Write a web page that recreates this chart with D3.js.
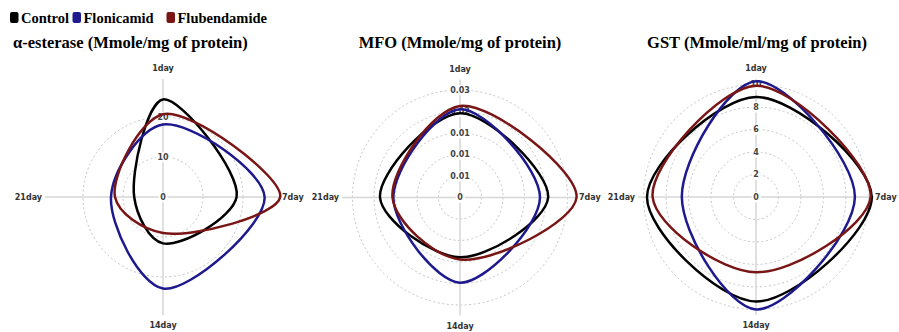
<!DOCTYPE html>
<html>
<head>
<meta charset="utf-8">
<script src="https://cdn.jsdelivr.net/npm/d3@7"></script>
<style>
    body { margin: 0; background: #fff; }
    svg { display: block; }
</style>
</head>
<body>
<svg></svg>
<script>
const days = ['1day', '7day', '14day', '21day'];
const seriesNames = ['Control', 'Flonicamid', 'Flubendamide'];
const seriesColors = ['#000000', '#1e1a8e', '#7a1515'];

// alpha-esterase
const esteraseControl = [24.4, 18.4, 11.6, 7.2];
const esteraseFlonicamid = [18.1, 25.4, 22.9, 13.0];
const esteraseFlubendamide = [20.7, 29.3, 9.0, 12.0];
const esteraseTicks = [10, 20];

// MFO
const mfoControl = [0.0196, 0.0205, 0.0139, 0.0186];
const mfoFlonicamid = [0.0205, 0.0186, 0.0198, 0.0155];
const mfoFlubendamide = [0.0213, 0.0271, 0.0144, 0.0157];
const mfoTicks = [0.005, 0.01, 0.015, 0.02, 0.025];

// GST
const gstControl = [8.9, 10.3, 9.3, 9.7];
const gstFlonicamid = [10.3, 8.8, 10.0, 6.6];
const gstFlubendamide = [9.9, 10.2, 6.7, 9.2];
const gstTicks = [2, 4, 6, 8, 10];

const width = 899, height = 332;
const R = 118;

const svg = d3.select('svg')
    .attr('width', width)
    .attr('height', height);

const charts = [
    {
        title: 'α-esterase (Mmole/mg of protein)', titleX: 13, anchor: 'start',
        cx: 163, cy: 197, max: 29.5, ticks: esteraseTicks, fmt: d => d,
        series: [esteraseControl, esteraseFlonicamid, esteraseFlubendamide]
    },
    {
        title: 'MFO (Mmole/mg of protein)', titleX: 460, anchor: 'middle',
        cx: 460, cy: 197.5, max: 0.02744, ticks: mfoTicks, fmt: d => d === 0 ? '0' : d.toFixed(2),
        series: [mfoControl, mfoFlonicamid, mfoFlubendamide]
    },
    {
        title: 'GST (Mmole/ml/mg of protein)', titleX: 757, anchor: 'middle',
        cx: 756, cy: 197, max: 10.5, ticks: gstTicks, fmt: d => d,
        series: [gstControl, gstFlonicamid, gstFlubendamide]
    }
];

const angle = i => i * Math.PI / 2;

function drawRadar(c) {
    const r = d3.scaleLinear().domain([0, c.max]).range([0, R]);
    const g = svg.append('g').attr('transform', `translate(${c.cx},${c.cy})`);

    svg.append('text')
        .attr('x', c.titleX)
        .attr('y', 48)
        .attr('text-anchor', c.anchor)
        .attr('font-family', 'Liberation Serif, Times New Roman, serif')
        .attr('font-weight', 'bold')
        .attr('font-size', '16.5px')
        .attr('fill', '#000')
        .text(c.title);

    g.append('g').selectAll('circle')
        .data(c.ticks)
        .enter().append('circle')
        .attr('r', d => r(d))
        .attr('fill', 'none')
        .attr('stroke', '#c4c4c4')
        .attr('stroke-width', 1)
        .attr('stroke-dasharray', '2,2.5');

    g.append('g').selectAll('line')
        .data(days)
        .enter().append('line')
        .attr('x1', 0).attr('y1', 0)
        .attr('x2', (d, i) => Math.sin(angle(i)) * R)
        .attr('y2', (d, i) => -Math.cos(angle(i)) * R)
        .attr('stroke', '#d6d6d6')
        .attr('stroke-width', 1.5);

    // tick labels with white backdrop
    const tk = g.append('g').selectAll('g')
        .data([0].concat(c.ticks))
        .enter().append('g')
        .attr('transform', d => `translate(0,${-r(d)})`);
    tk.append('text')
        .attr('text-anchor', 'middle')
        .attr('dy', '0.35em')
        .attr('font-family', 'DejaVu Sans, sans-serif')
        .attr('font-weight', 'bold')
        .attr('font-size', '8px')
        .attr('fill', '#444')
        .text(d => c.fmt(d));
    tk.each(function() {
        const t = d3.select(this).select('text');
        const b = t.node().getBBox();
        d3.select(this).insert('rect', 'text')
            .attr('x', b.x - 1.5).attr('y', b.y - 0.5)
            .attr('width', b.width + 3).attr('height', b.height + 1)
            .attr('fill', '#fff');
    });

    const line = d3.lineRadial()
        .angle((d, i) => angle(i))
        .radius(d => r(d))
        .curve(d3.curveCatmullRomClosed.alpha(0.5));

    g.append('g').selectAll('path')
        .data(c.series)
        .enter().append('path')
        .attr('d', d => line(d))
        .attr('fill', 'none')
        .attr('stroke', (d, i) => seriesColors[i])
        .attr('stroke-width', 2.5);

    g.append('g').selectAll('text')
        .data(days)
        .enter().append('text')
        .attr('x', (d, i) => i === 1 ? R + 1 : i === 3 ? -R - 3 : 0)
        .attr('y', (d, i) => i === 0 ? -R - 8 : i === 2 ? R + 13 : 0)
        .attr('dy', (d, i) => i % 2 === 1 ? '0.35em' : 0)
        .attr('text-anchor', (d, i) => i === 1 ? 'start' : i === 3 ? 'end' : 'middle')
        .attr('font-family', 'DejaVu Sans, sans-serif')
        .attr('font-weight', 'bold')
        .attr('font-size', '8px')
        .attr('fill', '#333')
        .text(d => d);
}

charts.forEach(drawRadar);

// legend
const legendX = [10, 72.5, 166.5];
const legend = svg.append('g').selectAll('g')
    .data(seriesNames)
    .enter().append('g')
    .attr('transform', (d, i) => `translate(${legendX[i]},12)`);
legend.append('rect')
    .attr('width', 8.5).attr('height', 11)
    .attr('rx', 2)
    .attr('fill', (d, i) => seriesColors[i]);
legend.append('text')
    .attr('x', 11)
    .attr('y', 10.5)
    .attr('font-family', 'Liberation Serif, Times New Roman, serif')
    .attr('font-weight', 'bold')
    .attr('font-size', '14.5px')
    .attr('fill', '#000')
    .text(d => d);
</script>
</body>
</html>
